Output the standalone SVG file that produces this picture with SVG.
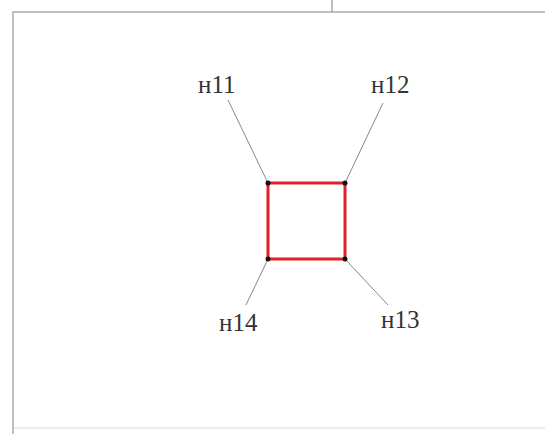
<svg xmlns="http://www.w3.org/2000/svg" width="545" height="434" viewBox="0 0 545 434">
<style>
.frame{stroke:#aaa;stroke-width:1.5;fill:none}
.lead{stroke:#888;stroke-width:1;fill:none}
.edge{stroke:#e0202a;stroke-width:3;fill:none}
.pt{fill:#111}
.lbl{font-family:"Liberation Serif",serif;font-size:25px;fill:#333}
</style>
<rect width="545" height="434" fill="#fff"/>
<g id="frame">
<path class="frame" d="M13,434 V12 H545 M332,0 V12"/>
<path class="frame" d="M13,428 H545" stroke-opacity="0.3"/>
</g>
<g id="connectors">
<line class="lead" x1="268" y1="183" x2="228" y2="100"/>
<line class="lead" x1="345" y1="183" x2="383" y2="103"/>
<line class="lead" x1="268" y1="259" x2="246" y2="305"/>
<line class="lead" x1="345" y1="259" x2="388" y2="305"/>
<rect class="edge" x="268" y="183" width="77" height="76"/>
</g>
<g id="n11"><circle class="pt" cx="268" cy="183" r="2.5"/><text class="lbl" x="198" y="93">н11</text></g>
<g id="n12"><circle class="pt" cx="345" cy="183" r="2.5"/><text class="lbl" x="371" y="93">н12</text></g>
<g id="n13"><circle class="pt" cx="345" cy="259" r="2.5"/><text class="lbl" x="381" y="328">н13</text></g>
<g id="n14"><circle class="pt" cx="268" cy="259" r="2.5"/><text class="lbl" x="219" y="331">н14</text></g>
</svg>
